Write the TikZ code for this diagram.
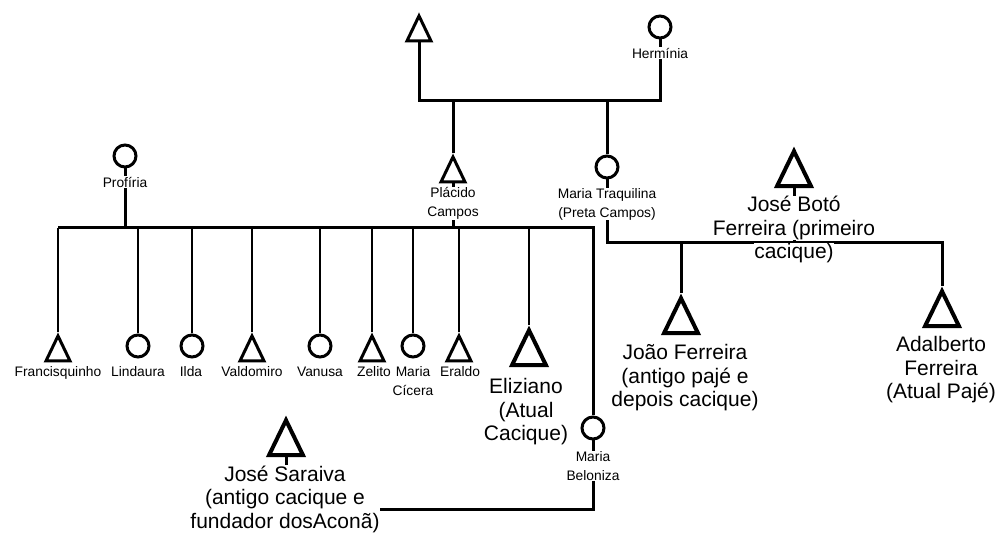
\documentclass[tikz,border=0pt]{standalone}
\usepackage{fontspec}
\setmainfont{Liberation Sans}
\usetikzlibrary{shapes.geometric}
\tikzset{ma/.style = {isosceles triangle, isosceles triangle stretches, shape border rotate=90, anchor=apex, draw, line width=3pt, inner sep=0pt, minimum width=24pt, minimum height=25pt},
           mab/.style = {ma, line width=4pt, minimum width=34pt, minimum height=35pt},
           fe/.style = {circle, draw, line width=3pt, inner sep=0pt, minimum size=22pt},
           ln/.style = {line width=3pt},
           dr/.style = {line width=2.5pt},
           nm/.style = {fill=white, inner sep=0.5pt, align=center, font=\fontsize{13.8}{19}\selectfont},
           bg/.style = {fill=white, inner sep=0.5pt, align=center, font=\fontsize{21}{23.5}\selectfont}}
\begin{document}
\begin{tikzpicture}[x=1pt, y=-1pt]
  \useasboundingbox (0,0) rectangle (1002,534);
  % parents
  \node[ma] (pai) at (419,12) {};
  \node[fe] (hermi) at (660,27) {};
  \node[ma] (placido) at (453,153) {};
  \node[fe] (traq) at (607,167) {};
  \node[fe] (profi) at (125,156) {};
  \node[mab] (boto) at (794,146) {};
  % children
  \node[ma] (franc) at (58,332) {}; \node[fe] (linda) at (138,346) {}; \node[fe] (ilda) at (192,346) {};
  \node[ma] (valdo) at (252,332) {}; \node[fe] (vanu) at (320,346) {}; \node[ma] (zeli) at (372,332) {};
  \node[fe] (cice) at (413,346) {}; \node[ma] (erald) at (459,332) {}; \node[mab] (elizi) at (529,325) {};
  \node[fe] (belo) at (593,428) {};
  \node[mab] (sarai) at (286,415) {};
  \node[mab] (joao) at (681,293) {}; \node[mab] (adal) at (942,286) {};
  % junctions
  \coordinate (c1a) at (419,101); \coordinate (c1b) at (660,101);
  \coordinate (c2a) at (58,228); \coordinate (c2b) at (593,228);
  \coordinate (c3a) at (607,243); \coordinate (c3b) at (942,243);
  \coordinate (c4) at (286,510);
  \draw[ln] (pai.lower side) -- (c1a) -- (c1b) -- (hermi.south);
  \draw[ln] (placido.apex) -- (placido.apex |- c1a);
  \draw[ln] (traq.north) -- (traq.north |- c1a);
  \draw[ln] (profi.south) -- (profi.south |- c2a);
  \draw[ln] (placido.lower side) -- (placido.lower side |- c2a);
  \draw[ln] (c2a) -- (c2b) -- (belo.north);
  \foreach \k in {franc, valdo, zeli, erald, elizi} \draw[dr] (\k.apex) -- (\k.apex |- c2a);
  \foreach \k in {linda, ilda, vanu, cice} \draw[dr] (\k.north) -- (\k.north |- c2a);
  \draw[ln] (belo.south) |- (c4) -- (sarai.lower side);
  \draw[ln] (joao.apex) -- (joao.apex |- c3a);
  \draw[ln] (boto.lower side) -- (boto.lower side |- c3a);
  \node[bg] (botol) at (794,218) {José Botó\\Ferreira (primeiro};
  \draw[ln] (traq.south) -- (c3a) -- (c3b) -- (adal.apex);
  \node[bg] (botoc) at (794,253) {cacique)};
  % names
  \node[nm] (hermil) at (660,53) {Hermínia};
  \node[nm] (profil) at (125,182) {Profíria};
  \node[nm] (placl) at (453,203.5) {Plácido\\Campos};
  \node[nm] (traql) at (607,204) {Maria Traquilina\\(Preta Campos)};
  \node[nm, anchor=north] (francl) at (58,366) {Francisquinho};
  \node[nm, anchor=north] (lindal) at (138,366) {Lindaura};
  \node[nm, anchor=north] (ildal) at (191,366) {Ilda};
  \node[nm, anchor=north] (valdol) at (252,366) {Valdomiro};
  \node[nm, anchor=north] (vanul) at (320,366) {Vanusa};
  \node[nm, anchor=north] (zelil) at (374,366) {Zelito};
  \node[nm, anchor=north] (cicel) at (413,366) {Maria\\Cícera};
  \node[nm, anchor=north] (eraldl) at (460,366) {Eraldo};
  \node[bg] (elizil) at (526,412) {Eliziano\\(Atual\\Cacique)};
  \node[nm] (belol) at (593,466) {Maria\\Beloniza};
  \node[bg] (sarail) at (285,499) {José Saraiva\\(antigo cacique e\\fundador dosAconã)};
  \node[bg] (joaol) at (685,378) {João Ferreira\\(antigo pajé e\\depois cacique)};
  \node[bg] (adall) at (941,370) {Adalberto\\Ferreira\\(Atual Pajé)};
\end{tikzpicture}
\end{document}
